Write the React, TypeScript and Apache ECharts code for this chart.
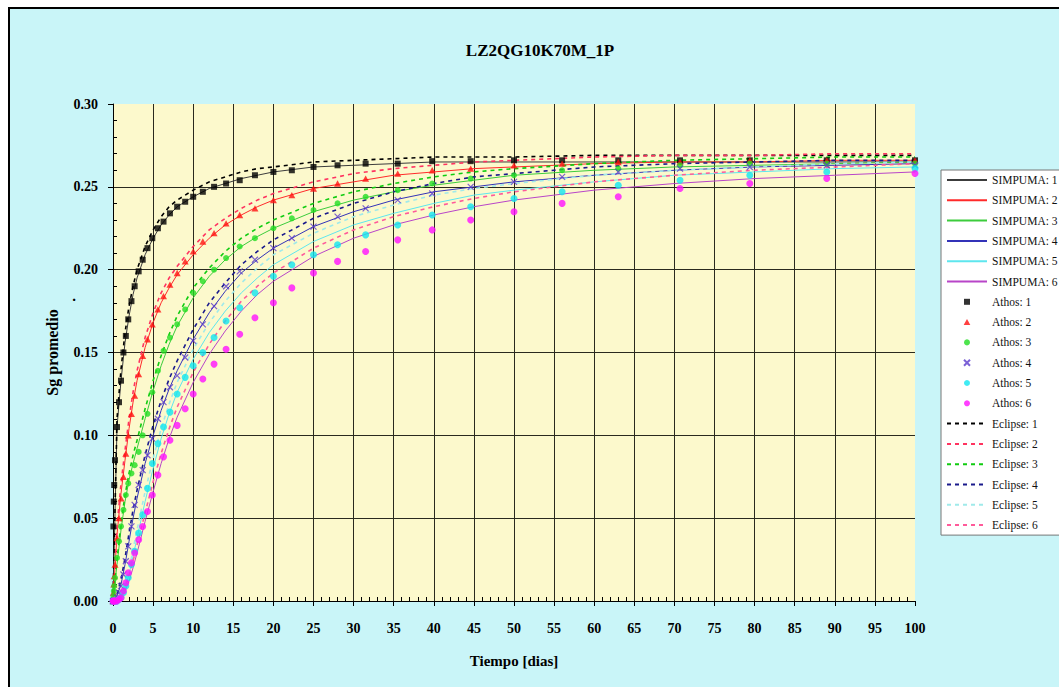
import { useEffect, useRef } from 'react';
import * as echarts from 'echarts';

// Simulation output times (days) for SIMPUMA and Eclipse curves
const simTimes = [0, 0.5, 1, 1.5, 2, 2.5, 3, 4, 5, 6, 7, 8, 10, 12, 14, 16, 18, 20, 25, 30, 35, 40, 45, 50, 60, 70, 80, 90, 100];

// Report times (days) for the Athos points
const athosTimes = [0, 0.05, 0.1, 0.15, 0.25, 0.5, 0.75, 1, 1.3, 1.6, 1.9, 2.3, 2.7, 3.2, 3.7, 4.3, 4.9, 5.6, 6.3, 7.1, 8, 9, 10, 11.2, 12.6, 14.1, 15.8, 17.7, 20, 22.3, 25, 28, 31.5, 35.5, 39.8, 44.6, 50, 56, 63, 70.7, 79.4, 89, 100];

// Average gas saturation, SIMPUMA
const simpuma1 = [0, 0.105, 0.133, 0.156, 0.172, 0.185, 0.195, 0.209, 0.219, 0.227, 0.233, 0.238, 0.244, 0.249, 0.252, 0.255, 0.257, 0.259, 0.262, 0.263, 0.264, 0.265, 0.265, 0.265, 0.265, 0.265, 0.265, 0.265, 0.265];
const simpuma2 = [0, 0.04, 0.065, 0.085, 0.104, 0.12, 0.133, 0.153, 0.168, 0.18, 0.189, 0.197, 0.209, 0.219, 0.227, 0.233, 0.238, 0.242, 0.249, 0.253, 0.257, 0.259, 0.261, 0.262, 0.264, 0.265, 0.265, 0.266, 0.266];
const simpuma3 = [0, 0.022, 0.043, 0.06, 0.073, 0.083, 0.092, 0.11, 0.127, 0.142, 0.155, 0.166, 0.183, 0.196, 0.206, 0.214, 0.22, 0.225, 0.235, 0.242, 0.247, 0.251, 0.254, 0.257, 0.26, 0.262, 0.263, 0.264, 0.265];
const simpuma4 = [0, 0.003, 0.01, 0.022, 0.036, 0.05, 0.062, 0.083, 0.1, 0.115, 0.128, 0.139, 0.158, 0.174, 0.187, 0.198, 0.206, 0.213, 0.226, 0.235, 0.242, 0.247, 0.25, 0.253, 0.257, 0.26, 0.262, 0.263, 0.264];
const simpuma5 = [0, 0, 0.003, 0.008, 0.016, 0.027, 0.038, 0.06, 0.08, 0.098, 0.113, 0.126, 0.146, 0.162, 0.175, 0.186, 0.195, 0.203, 0.217, 0.227, 0.234, 0.24, 0.245, 0.248, 0.253, 0.257, 0.259, 0.261, 0.262];
const simpuma6 = [0, 0, 0.002, 0.006, 0.012, 0.02, 0.029, 0.048, 0.066, 0.083, 0.098, 0.111, 0.132, 0.149, 0.163, 0.175, 0.185, 0.193, 0.208, 0.219, 0.227, 0.233, 0.238, 0.242, 0.248, 0.252, 0.255, 0.257, 0.259];

// Average gas saturation, Eclipse
const eclipse1 = [0, 0.11, 0.14, 0.162, 0.178, 0.19, 0.2, 0.214, 0.224, 0.232, 0.238, 0.242, 0.248, 0.253, 0.256, 0.259, 0.261, 0.262, 0.265, 0.266, 0.267, 0.268, 0.268, 0.268, 0.269, 0.269, 0.269, 0.269, 0.269];
const eclipse2 = [0, 0.045, 0.071, 0.091, 0.11, 0.126, 0.139, 0.159, 0.174, 0.186, 0.195, 0.202, 0.214, 0.224, 0.231, 0.237, 0.242, 0.246, 0.253, 0.258, 0.261, 0.263, 0.265, 0.266, 0.268, 0.269, 0.269, 0.27, 0.27];
const eclipse3 = [0, 0.025, 0.047, 0.064, 0.077, 0.088, 0.097, 0.116, 0.133, 0.148, 0.161, 0.172, 0.189, 0.201, 0.211, 0.219, 0.225, 0.23, 0.24, 0.247, 0.252, 0.256, 0.259, 0.261, 0.264, 0.266, 0.267, 0.268, 0.268];
const eclipse4 = [0, 0.004, 0.013, 0.026, 0.041, 0.055, 0.067, 0.088, 0.106, 0.121, 0.134, 0.145, 0.164, 0.18, 0.192, 0.203, 0.211, 0.218, 0.231, 0.24, 0.247, 0.252, 0.256, 0.258, 0.262, 0.264, 0.265, 0.266, 0.266];
const eclipse5 = [0, 0, 0.004, 0.01, 0.019, 0.031, 0.043, 0.066, 0.086, 0.104, 0.119, 0.132, 0.152, 0.168, 0.181, 0.192, 0.201, 0.209, 0.222, 0.232, 0.239, 0.245, 0.249, 0.252, 0.257, 0.26, 0.262, 0.264, 0.265];
const eclipse6 = [0, 0, 0.003, 0.008, 0.015, 0.024, 0.034, 0.053, 0.072, 0.089, 0.104, 0.117, 0.138, 0.155, 0.169, 0.181, 0.19, 0.198, 0.213, 0.224, 0.232, 0.238, 0.243, 0.247, 0.253, 0.257, 0.26, 0.262, 0.264];

// Average gas saturation, Athos
const athos1 = [0, 0.045, 0.06, 0.07, 0.085, 0.105, 0.12, 0.133, 0.15, 0.16, 0.17, 0.181, 0.19, 0.199, 0.206, 0.213, 0.219, 0.225, 0.229, 0.234, 0.238, 0.241, 0.244, 0.247, 0.25, 0.252, 0.254, 0.257, 0.259, 0.26, 0.262, 0.263, 0.264, 0.264, 0.2655, 0.2655, 0.266, 0.266, 0.266, 0.266, 0.266, 0.266, 0.266];
const athos2 = [0, 0.005, 0.01, 0.015, 0.022, 0.038, 0.05, 0.062, 0.075, 0.089, 0.1, 0.113, 0.124, 0.137, 0.148, 0.158, 0.167, 0.176, 0.184, 0.191, 0.198, 0.205, 0.211, 0.217, 0.222, 0.228, 0.233, 0.237, 0.242, 0.245, 0.249, 0.252, 0.255, 0.258, 0.26, 0.261, 0.263, 0.264, 0.265, 0.265, 0.266, 0.266, 0.266];
const athos3 = [0, 0.003, 0.006, 0.009, 0.014, 0.026, 0.036, 0.045, 0.055, 0.064, 0.071, 0.077, 0.082, 0.09, 0.1, 0.113, 0.126, 0.139, 0.151, 0.159, 0.167, 0.176, 0.186, 0.193, 0.2, 0.207, 0.214, 0.219, 0.225, 0.231, 0.236, 0.24, 0.244, 0.248, 0.252, 0.255, 0.257, 0.26, 0.261, 0.263, 0.264, 0.264, 0.264];
const athos4 = [0, 0, 0, 0, 0, 0.002, 0.005, 0.009, 0.016, 0.024, 0.033, 0.045, 0.058, 0.07, 0.079, 0.088, 0.098, 0.11, 0.12, 0.129, 0.136, 0.147, 0.157, 0.167, 0.178, 0.19, 0.199, 0.206, 0.213, 0.219, 0.226, 0.232, 0.237, 0.242, 0.246, 0.25, 0.253, 0.256, 0.259, 0.261, 0.262, 0.263, 0.263];
const athos5 = [0, 0, 0, 0, 0, 0, 0.001, 0.002, 0.005, 0.009, 0.014, 0.022, 0.03, 0.041, 0.052, 0.068, 0.083, 0.095, 0.105, 0.114, 0.125, 0.135, 0.142, 0.15, 0.159, 0.169, 0.177, 0.186, 0.196, 0.203, 0.209, 0.215, 0.221, 0.227, 0.233, 0.238, 0.243, 0.247, 0.251, 0.254, 0.257, 0.259, 0.261];
const athos6 = [0, 0, 0, 0, 0, 0, 0.001, 0.002, 0.006, 0.011, 0.017, 0.023, 0.029, 0.037, 0.045, 0.054, 0.064, 0.076, 0.087, 0.097, 0.106, 0.116, 0.125, 0.134, 0.143, 0.152, 0.161, 0.171, 0.18, 0.189, 0.198, 0.205, 0.211, 0.218, 0.224, 0.23, 0.235, 0.24, 0.244, 0.249, 0.252, 0.255, 0.258];

const caseLabels = ['1', '2', '3', '4', '5', '6'];
const simpumaRuns = [simpuma1, simpuma2, simpuma3, simpuma4, simpuma5, simpuma6];
const eclipseRuns = [eclipse1, eclipse2, eclipse3, eclipse4, eclipse5, eclipse6];
const athosRuns = [athos1, athos2, athos3, athos4, athos5, athos6];

const simpumaColors = ['#3c3c3c', '#ff2a2a', '#3ccc3c', '#3333b8', '#5ee6ee', '#b845c8'];
const athosColors = ['#000000', '#ff1010', '#22dd22', '#5a3acc', '#10e6f0', '#ff10ff'];
const eclipseColors = ['#000000', '#ff3360', '#10cc10', '#1a1a8c', '#a0eaea', '#ff5a9a'];

const squareMark = 'path://M0,0L10,0L10,10L0,10Z';
const triangleMark = 'path://M5,0L10,9L0,9Z';
const crossMark = 'path://M0,0L10,10M10,0L0,10';
const athosSymbols = [squareMark, triangleMark, 'circle', crossMark, 'circle', 'circle'];
const athosSizes = [6, 7, 6, 6, 7, 7];

const serif = 'Liberation Serif';

const pairs = (times: number[], values: number[]) => values.map((v, i) => [times[i], v]);

function buildOption() {
  const series: any[] = [];
  const legendItems: any[] = [];

  caseLabels.forEach((c, i) => {
    const name = `SIMPUMA: ${c}`;
    legendItems.push({ name, itemStyle: { opacity: 0 } });
    series.push({
      name,
      type: 'line',
      data: pairs(simTimes, simpumaRuns[i]),
      symbol: 'none',
      smooth: false,
      lineStyle: { color: simpumaColors[i], width: 1 },
      itemStyle: { color: simpumaColors[i] },
      z: 2,
    });
  });

  caseLabels.forEach((c, i) => {
    const name = `Athos: ${c}`;
    legendItems.push({ name });
    const isCross = athosSymbols[i] === crossMark;
    series.push({
      name,
      type: 'scatter',
      data: pairs(athosTimes, athosRuns[i]),
      symbol: athosSymbols[i],
      symbolSize: athosSizes[i],
      symbolKeepAspect: true,
      itemStyle: isCross
        ? { color: 'rgba(0,0,0,0)', borderColor: athosColors[i], borderWidth: 1.2 }
        : { color: athosColors[i] },
      z: 4,
    });
  });

  caseLabels.forEach((c, i) => {
    const name = `Eclipse: ${c}`;
    legendItems.push({ name, itemStyle: { opacity: 0 } });
    series.push({
      name,
      type: 'line',
      data: pairs(simTimes, eclipseRuns[i]),
      symbol: 'none',
      smooth: false,
      lineStyle: { color: eclipseColors[i], width: 1.6, type: [4, 4] },
      itemStyle: { color: eclipseColors[i] },
      z: 3,
    });
  });

  return {
    animation: false,
    backgroundColor: '#ffffff',
    graphic: [
      {
        type: 'rect',
        z: -10,
        silent: true,
        shape: { x: 9, y: 8, width: 1100, height: 720 },
        style: { fill: '#c9f5f8', stroke: '#000000', lineWidth: 2 },
      },
      {
        type: 'text',
        x: 540,
        y: 50,
        style: {
          text: 'LZ2QG10K70M_1P',
          font: `bold 17px "${serif}"`,
          fill: '#000',
          textAlign: 'center',
          textVerticalAlign: 'middle',
        },
      },
      {
        type: 'text',
        x: 74,
        y: 296,
        style: {
          text: '.',
          font: `bold 15px "${serif}"`,
          fill: '#000',
          textAlign: 'center',
          textVerticalAlign: 'middle',
        },
      },
    ],
    legend: {
      orient: 'vertical',
      left: 941,
      top: 170,
      data: legendItems,
      itemWidth: 40,
      itemHeight: 6,
      itemGap: 8.3,
      padding: [4, 24, 4, 5],
      backgroundColor: '#ffffff',
      borderColor: '#777777',
      borderWidth: 1,
      textStyle: { fontFamily: serif, fontSize: 11.5, color: '#111' },
    },
    grid: {
      left: 113,
      right: 144,
      top: 104,
      bottom: 86,
      show: true,
      backgroundColor: '#fcf9cc',
      borderWidth: 0,
    },
    xAxis: {
      type: 'value',
      min: 0,
      max: 100,
      interval: 5,
      name: 'Tiempo [dias]',
      nameLocation: 'middle',
      nameGap: 52,
      nameTextStyle: { fontFamily: serif, fontWeight: 'bold', fontSize: 15, color: '#000' },
      axisLine: { show: true, lineStyle: { color: '#000', width: 1 } },
      axisTick: { show: true, length: 5, lineStyle: { color: '#000' } },
      minorTick: { show: true, splitNumber: 5, length: -4, lineStyle: { color: '#000' } },
      splitLine: { show: true, showMinLine: false, showMaxLine: false, lineStyle: { color: '#2a2a1e', width: 1 } },
      axisLabel: { fontFamily: serif, fontWeight: 'bold', fontSize: 14, color: '#000', margin: 20 },
    },
    yAxis: {
      type: 'value',
      min: 0,
      max: 0.3,
      interval: 0.05,
      name: 'Sg promedio',
      nameLocation: 'middle',
      nameGap: 53,
      nameTextStyle: { fontFamily: serif, fontWeight: 'bold', fontSize: 16, color: '#000' },
      axisLine: { show: true, lineStyle: { color: '#000', width: 1 } },
      axisTick: { show: true, length: 5, lineStyle: { color: '#000' } },
      minorTick: { show: true, splitNumber: 5, length: -4, lineStyle: { color: '#000' } },
      splitLine: { show: true, showMinLine: false, showMaxLine: false, lineStyle: { color: '#2a2a1e', width: 1 } },
      axisLabel: {
        fontFamily: serif,
        fontWeight: 'bold',
        fontSize: 14,
        color: '#000',
        margin: 15,
        formatter: (v: number) => v.toFixed(2),
      },
    },
    series,
  };
}

export default function App() {
  const ref = useRef<HTMLDivElement>(null);
  useEffect(() => {
    if (!ref.current) return;
    const chart = echarts.init(ref.current, null, { renderer: 'svg' });
    chart.setOption(buildOption() as any);
    return () => chart.dispose();
  }, []);
  return (
    <div
      ref={ref}
      style={{ position: 'absolute', left: 0, top: 0, width: 1059, height: 687 }}
    />
  );
}
